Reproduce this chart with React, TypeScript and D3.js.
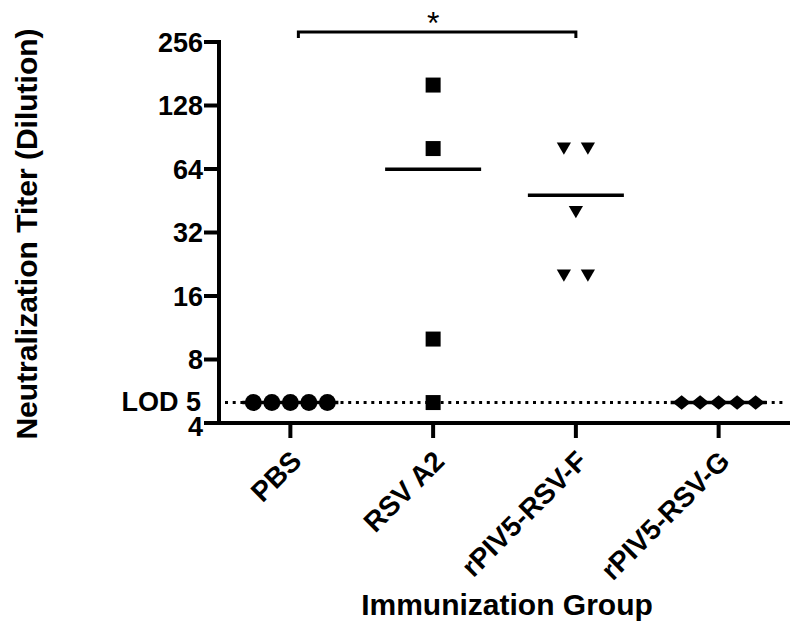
import React from 'react';
import * as d3 from 'd3';

// groups on the x axis
const groups = ['PBS', 'RSV A2', 'rPIV5-RSV-F', 'rPIV5-RSV-G'];

// neutralization titers per animal
const pbsTiters = [5, 5, 5, 5, 5];
const rsvA2Titers = [160, 80, 10, 5];
const fTiters = [80, 80, 40, 20, 20];
const gTiters = [5, 5, 5, 5, 5];

const yTicks = [4, 8, 16, 32, 64, 128, 256];
const lod = 5;

const seriesByGroup = [pbsTiters, rsvA2Titers, fTiters, gTiters];

const W = 800;
const H = 643;
const FONT = '"Liberation Sans", Arial, sans-serif';

const x = d3.scalePoint<string>().domain(groups).range([219, 790]).padding(0.5);
const y = d3.scaleLog().base(2).domain([4, 256]).range([423, 42]);

// marker shape + spread between points that share a value
const markers = [
  { type: d3.symbolCircle, size: 227, spread: 18.5, rotate: 0, sy: 1 },
  { type: d3.symbolSquare, size: 225, spread: 18, rotate: 0, sy: 1 },
  { type: d3.symbolTriangle, size: 88, spread: 24, rotate: 180, sy: 1 },
  { type: d3.symbolDiamond2, size: 206, spread: 18.5, rotate: 0, sy: 0.8 },
];

function layout(values: number[], spread: number) {
  const counts = d3.rollup(values, v => v.length, d => d);
  const seen = new Map<number, number>();
  return values.map(v => {
    const n = counts.get(v) || 1;
    const i = seen.get(v) || 0;
    seen.set(v, i + 1);
    return { v, dx: (i - (n - 1) / 2) * spread };
  });
}

export default function App() {
  const x0 = 219;
  const x1 = 790;
  const yBase = 423;

  return (
    <svg width={W} height={H} style={{ position: 'absolute', left: 0, top: 0, background: '#fff' }} fontFamily={FONT}>
      {/* LOD dotted line */}
      <line x1={225} x2={786} y1={y(lod)} y2={y(lod)} stroke="#000" strokeWidth={3} strokeDasharray="3 4.7" />

      {/* mean lines */}
      {seriesByGroup.map((vals, gi) => {
        const m = d3.mean(vals) as number;
        const cx = x(groups[gi]) as number;
        return <line key={'m' + gi} x1={cx - 48} x2={cx + 48} y1={y(m)} y2={y(m)} stroke="#000" strokeWidth={3.5} />;
      })}

      {/* points */}
      {seriesByGroup.map((vals, gi) => {
        const mk = markers[gi];
        const path = d3.symbol().type(mk.type).size(mk.size)() as string;
        const cx = x(groups[gi]) as number;
        return layout(vals, mk.spread).map((p, i) => (
          <path
            key={gi + '-' + i}
            d={path}
            fill="#000"
            transform={`translate(${cx + p.dx},${y(p.v) + (mk.rotate ? -2 : 0)}) rotate(${mk.rotate}) scale(1,${mk.sy})`}
          />
        ));
      })}

      {/* axes */}
      <line x1={x0} x2={x0} y1={40} y2={yBase + 2} stroke="#000" strokeWidth={4} />
      <line x1={x0 - 2} x2={x1} y1={yBase} y2={yBase} stroke="#000" strokeWidth={4} />
      {yTicks.map(t => (
        <g key={'yt' + t}>
          <line x1={x0 - 15} x2={x0} y1={y(t)} y2={y(t)} stroke="#000" strokeWidth={4} />
          <text x={x0 - 16} y={y(t) + (t === 4 ? 3 : 0)} dy="0.36em" textAnchor="end" fontSize={27} fontWeight="bold">{t}</text>
        </g>
      ))}
      <text x={x0 - 18} y={y(lod)} dy="0.33em" textAnchor="end" fontSize={27} fontWeight="bold">LOD 5</text>

      {groups.map(g => {
        const cx = x(g) as number;
        return (
          <g key={'xt' + g}>
            <line x1={cx} x2={cx} y1={yBase} y2={yBase + 15} stroke="#000" strokeWidth={4} />
            <text
              transform={`translate(${cx - 1},${yBase + 26}) rotate(-45)`}
              textAnchor="end"
              dy="0.7em"
              fontSize={28}
              fontWeight="bold"
            >{g}</text>
          </g>
        );
      })}

      {/* significance bracket */}
      <path
        d={`M${(x('PBS') as number) + 8},38 V32 H${x('rPIV5-RSV-F')} V38`}
        fill="none"
        stroke="#000"
        strokeWidth={3}
      />
      <text x={x('RSV A2')} y={34} textAnchor="middle" fontSize={32}>*</text>

      {/* axis titles */}
      <text transform="translate(37,234) rotate(-90)" textAnchor="middle" fontSize={30} fontWeight="bold">
        Neutralization Titer (Dilution)
      </text>
      <text x={507} y={615} textAnchor="middle" fontSize={30} fontWeight="bold">Immunization Group</text>
    </svg>
  );
}
